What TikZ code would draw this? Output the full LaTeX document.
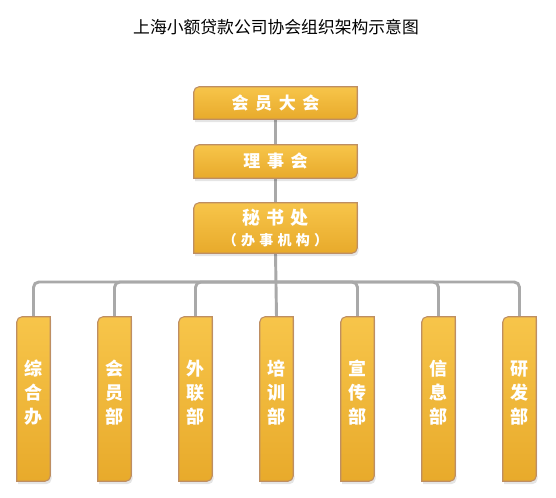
\documentclass[tikz,border=0pt]{standalone}
\usepackage{fontspec}
\newfontfamily\cjk{Noto Sans CJK SC}
\definecolor{goldA}{HTML}{F7C54A}
\definecolor{goldB}{HTML}{E8AA2B}
\definecolor{goldEdge}{HTML}{BE8E62}
\definecolor{connGray}{HTML}{A9A9A9}
\newcommand\goldshape[2][4pt]{%
  \fill[black,opacity=0.10,transform canvas={xshift=1pt,yshift=-2.2pt}]
    (#2.north east) -- ([yshift=#1]#2.south east) arc[start angle=0,end angle=-90,radius=#1]
    -- (#2.south west) -- ([yshift=-#1]#2.north west) arc[start angle=180,end angle=90,radius=#1] -- cycle;
  \path[boxfill]
    (#2.north east) -- ([yshift=#1]#2.south east) arc[start angle=0,end angle=-90,radius=#1]
    -- (#2.south west) -- ([yshift=-#1]#2.north west) arc[start angle=180,end angle=90,radius=#1] -- cycle;
  \draw[white,opacity=0.55,line width=0.5pt]
    ([xshift=1pt,yshift=-1pt]#2.north east) -- ([xshift=1pt,yshift=#1]#2.south east);
}
\begin{document}
\begin{tikzpicture}[x=0.75pt,y=0.75pt,
  topbox/.style={minimum width=122.25pt, minimum height=#1, inner sep=0pt},
  deptbox/.style={minimum width=24.75pt, minimum height=123pt, inner sep=0pt},
  conn/.style={draw=connGray, line width=2.2pt},
  busconn/.style={conn, rounded corners=4pt},
  boxfill/.style={top color=goldA, bottom color=goldB, draw=goldEdge, line width=0.8pt},
  lbl/.style={text=white, inner sep=0pt, align=center},
  bigf/.style={font=\cjk\bfseries\fontsize{12.75}{15}\selectfont},
  misf/.style={font=\cjk\bfseries\fontsize{13.5}{16.5}\selectfont},
  subf/.style={font=\cjk\bfseries\fontsize{10.5}{12}\selectfont},
  deptf/.style={font=\cjk\bfseries\fontsize{13.5}{18}\selectfont},
  titlef/.style={font=\cjk\fontsize{12.6}{15}\selectfont}
]
\useasboundingbox (0,0) rectangle (556,498);
\fill[white] (0,0) rectangle (556,498);

% title
\node[titlef, inner sep=0pt] (title) at (276,471) {上海小额贷款公司协会组织架构示意图};

% box nodes (shapes drawn later)
\node[topbox=24pt] (hy) at (275.5,395) {};
\node[topbox=24.75pt] (ls) at (275.5,336.5) {};
\node[topbox=37.5pt] (ms) at (275.5,270) {};
\foreach \i in {1,...,7} {
  \node[deptbox] (d\i) at ({33.5+81*(\i-1)},99) {};
}

% connectors
\coordinate (busy) at (0,216);
\coordinate (hub) at (ms.south |- busy);
\draw[conn] (hy.south) -- (ls.north);
\draw[conn] (ls.south) -- (ms.north);
\draw[conn] (ms.south) -- (d4.north);
\foreach \i in {1,2,3,5,6,7} {
  \draw[busconn] (hub) -| (d\i.north);
}

% shapes
\goldshape{hy}
\goldshape{ls}
\goldshape{ms}
\foreach \i in {1,...,7} { \goldshape{d\i} }

% labels
\node[lbl,bigf] (hyt) at (hy.center) {会\hspace{5pt}员\hspace{5pt}大\hspace{5pt}会};
\node[lbl,bigf] (lst) at (ls.center) {理\hspace{5pt}事\hspace{5pt}会};
\node[lbl,misf] (mst) at ([yshift=7.5pt]ms.center) {秘\hspace{4.5pt}书\hspace{4.5pt}处};
\node[lbl,subf] (mst2) at ([yshift=-9pt]ms.center) {（\hspace{3.2pt}办\hspace{3.2pt}事\hspace{3.2pt}机\hspace{3.2pt}构\hspace{3.2pt}）};

\foreach \i/\t in {1/{综\\合\\办},2/{会\\员\\部},3/{外\\联\\部},4/{培\\训\\部},5/{宣\\传\\部},6/{信\\息\\部},7/{研\\发\\部}} {
  \node[lbl,deptf] (dt\i) at ([yshift=4.5pt]d\i.center) {\t};
}
\end{tikzpicture}
\end{document}
